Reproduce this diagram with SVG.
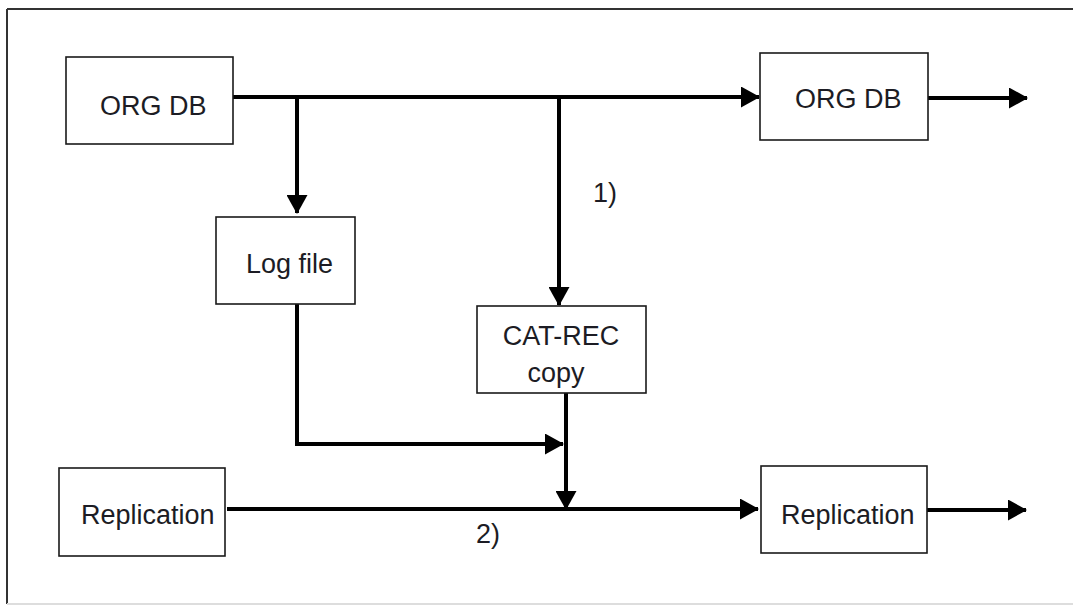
<svg xmlns="http://www.w3.org/2000/svg" width="1073" height="609" viewBox="0 0 1073 609">
<style>
.box{fill:#fff;stroke:#1a1a1a;stroke-width:1.6}
.lbl{font-family:"Liberation Sans",Arial,sans-serif;font-size:27px;fill:#1c1c24}
.conn{fill:none;stroke:#000;stroke-width:4}
</style>
<defs>
<marker id="ah" viewBox="0 0 19 21" refX="18" refY="10.5" markerWidth="19" markerHeight="21" markerUnits="userSpaceOnUse" orient="auto">
<path d="M0,0 L19,10.5 L0,21 Z" fill="#000"/>
</marker>
</defs>
<rect x="0" y="0" width="1073" height="609" fill="#fff"/>
<g id="frame">
<line x1="7" y1="9" x2="1073" y2="9" stroke="#333" stroke-width="2"/>
<line x1="7" y1="9" x2="7" y2="604" stroke="#333" stroke-width="2"/>
<line x1="7" y1="604" x2="1073" y2="604" stroke="#ddd" stroke-width="2"/>
</g>
<g id="connectors">
<path class="conn" d="M233,97 H759" marker-end="url(#ah)"/>
<path class="conn" d="M297,97 V213" marker-end="url(#ah)"/>
<path class="conn" d="M559,97 V305" marker-end="url(#ah)"/>
<path class="conn" d="M928,98 H1027" marker-end="url(#ah)"/>
<path class="conn" d="M297,304 V444 H563" marker-end="url(#ah)"/>
<path class="conn" d="M566,393 V509" marker-end="url(#ah)"/>
<path class="conn" d="M227,509 H758" marker-end="url(#ah)"/>
<path class="conn" d="M927,510 H1026" marker-end="url(#ah)"/>
</g>
<g id="orgdb1">
<rect class="box" x="66" y="57" width="167" height="87"/>
<text class="lbl" x="100" y="115">ORG DB</text>
</g>
<g id="orgdb2">
<rect class="box" x="760" y="53" width="168" height="87"/>
<text class="lbl" x="795" y="108">ORG DB</text>
</g>
<g id="logfile">
<rect class="box" x="216" y="217" width="139" height="87"/>
<text class="lbl" x="246" y="273">Log file</text>
</g>
<g id="catrec">
<rect class="box" x="477" y="306" width="169" height="87"/>
<text class="lbl" x="561" y="345" text-anchor="middle">CAT-REC</text>
<text class="lbl" x="556" y="382" text-anchor="middle">copy</text>
</g>
<g id="replication1">
<rect class="box" x="59" y="468" width="166" height="88"/>
<text class="lbl" x="81" y="524">Replication</text>
</g>
<g id="replication2">
<rect class="box" x="761" y="466" width="166" height="87"/>
<text class="lbl" x="781" y="524">Replication</text>
</g>
<g id="labels">
<text class="lbl" x="593" y="202">1)</text>
<text class="lbl" x="476" y="543">2)</text>
</g>
</svg>
